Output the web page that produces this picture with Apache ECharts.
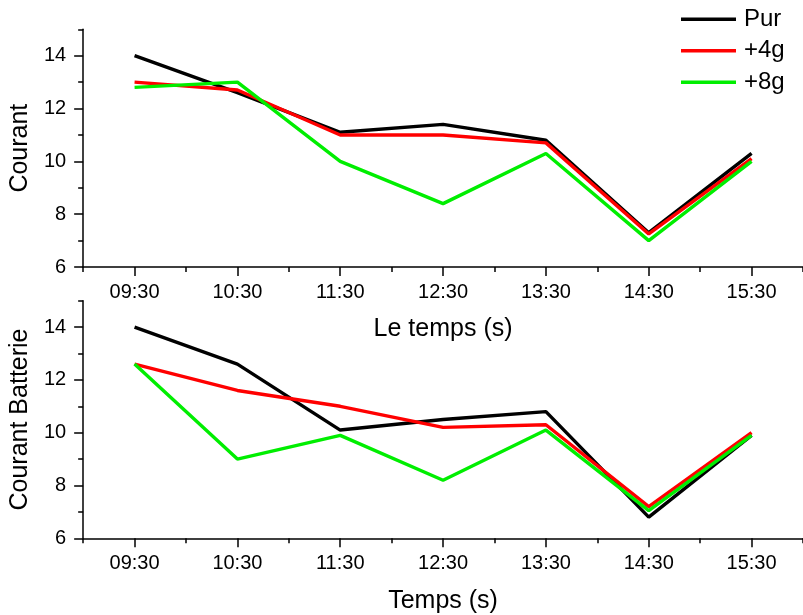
<!DOCTYPE html>
<html>
<head>
<meta charset="utf-8">
<script src="https://cdn.jsdelivr.net/npm/echarts@6/dist/echarts.min.js"></script>
<style>
html,body{margin:0;padding:0;background:#fff;}
#chart{width:803px;height:615px;}
</style>
</head>
<body>
<div id="chart"></div>
<script>
var categories = ['09:30','10:30','11:30','12:30','13:30','14:30','15:30'];
var seriesNames = ['Pur','+4g','+8g'];
var seriesColors = ['#000000','#ff0000','#00ee00'];

var topPur = [14.0, 12.6, 11.1, 11.4, 10.8, 7.3, 10.3];
var top4g  = [13.0, 12.7, 11.0, 11.0, 10.7, 7.25, 10.1];
var top8g  = [12.8, 13.0, 10.0, 8.4, 10.3, 7.0, 10.0];

var botPur = [14.0, 12.6, 10.1, 10.5, 10.8, 6.8, 9.9];
var bot4g  = [12.6, 11.6, 11.0, 10.2, 10.3, 7.2, 10.0];
var bot8g  = [12.6, 9.0, 9.9, 8.2, 10.1, 7.05, 9.9];

var yMajorTicks = [6, 8, 10, 12, 14];
var yMinorTicks = [7, 9, 11, 13, 15];

var FONT = 'Liberation Sans, Arial, sans-serif';
var AX = {color:'#000', width:1.5};

function xMain(gridIndex, name) {
  return {
    type:'category', gridIndex:gridIndex, position:'bottom', data:categories, boundaryGap:true,
    name:name, nameLocation:'middle', nameGap:50,
    nameTextStyle:{fontSize:25, color:'#000', fontFamily:FONT},
    axisLine:{show:true, lineStyle:AX},
    axisTick:{show:true, alignWithLabel:true, interval:0, length:9, lineStyle:AX},
    axisLabel:{show:true, interval:0, margin:15, fontSize:20, color:'#000', fontFamily:FONT},
    splitLine:{show:false}
  };
}
function xMinor(gridIndex) {
  return {
    type:'category', gridIndex:gridIndex, position:'bottom', data:categories, boundaryGap:true,
    axisLine:{show:false},
    axisTick:{show:true, alignWithLabel:false, interval:0, length:5, lineStyle:AX},
    axisLabel:{show:false},
    splitLine:{show:false}
  };
}
function yMain(gridIndex, name) {
  return {
    type:'value', gridIndex:gridIndex, position:'left', min:6, max:15, interval:2,
    name:name, nameLocation:'middle', nameGap:40,
    nameTextStyle:{fontSize:25, color:'#000', fontFamily:FONT},
    axisLine:{show:true, lineStyle:AX},
    axisTick:{show:true, length:9, lineStyle:AX, customValues:yMajorTicks},
    axisLabel:{show:true, margin:17, fontSize:20, color:'#000', fontFamily:FONT, customValues:yMajorTicks},
    splitLine:{show:false}
  };
}
function yMinor(gridIndex) {
  return {
    type:'value', gridIndex:gridIndex, position:'left', min:6, max:15, interval:1,
    axisLine:{show:false},
    axisTick:{show:true, length:5, lineStyle:AX, customValues:yMinorTicks},
    axisLabel:{show:false},
    splitLine:{show:false}
  };
}
function line(name, color, data, xi, yi) {
  return {
    type:'line', name:name, data:data, xAxisIndex:xi, yAxisIndex:yi,
    symbol:'none', showSymbol:false,
    lineStyle:{color:color, width:3.4}, itemStyle:{color:color},
    emphasis:{disabled:true}, animation:false
  };
}

var chart = echarts.init(document.getElementById('chart'), null, {renderer:'canvas'});
chart.setOption({
  animation:false,
  backgroundColor:'#ffffff',
  textStyle:{fontFamily:FONT},
  legend:{
    orient:'vertical', left:681, top:7, padding:0, itemGap:7,
    icon:'rect', itemWidth:55, itemHeight:3.5,
    textStyle:{fontSize:24, lineHeight:24.5, color:'#000', fontFamily:FONT, padding:[0,0,0,3]},
    data:seriesNames
  },
  grid:[
    {left:79, top:29.3, width:732, height:237.7, containLabel:false},
    {left:79, top:300.7, width:732, height:237.6, containLabel:false}
  ],
  xAxis:[xMain(0,'Le temps (s)'), xMinor(0), xMain(1,'Temps (s)'), xMinor(1)],
  yAxis:[yMain(0,'Courant'), yMinor(0), yMain(1,'Courant Batterie'), yMinor(1)],
  series:[
    line(seriesNames[0], seriesColors[0], topPur, 0, 0),
    line(seriesNames[1], seriesColors[1], top4g, 0, 0),
    line(seriesNames[2], seriesColors[2], top8g, 0, 0),
    line(seriesNames[0], seriesColors[0], botPur, 2, 2),
    line(seriesNames[1], seriesColors[1], bot4g, 2, 2),
    line(seriesNames[2], seriesColors[2], bot8g, 2, 2)
  ]
});
</script>
</body>
</html>
